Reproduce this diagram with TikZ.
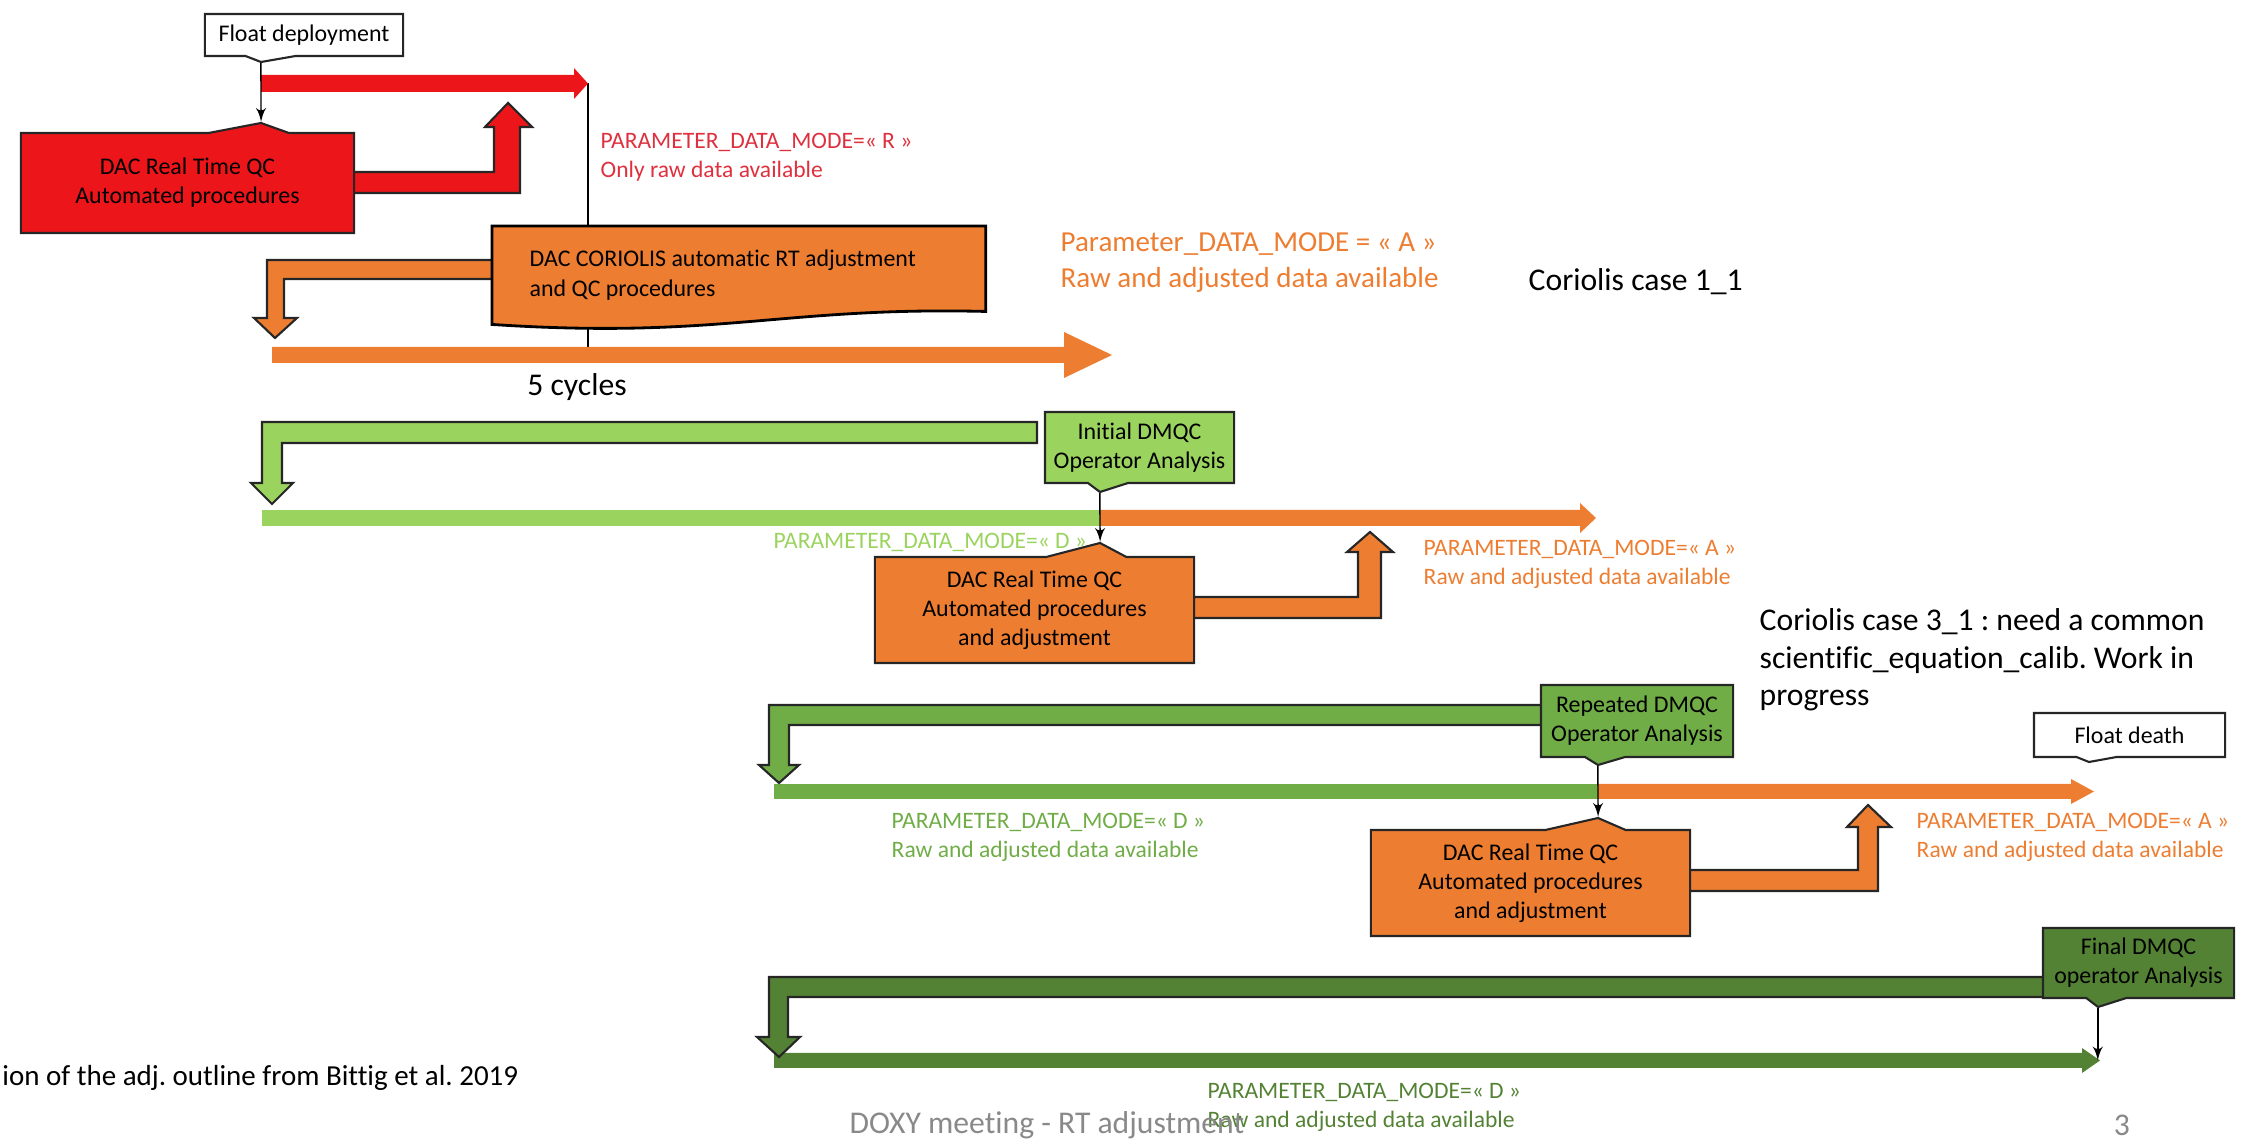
\documentclass[tikz,border=0pt]{standalone}
\usepackage{fontspec}
\setmainfont{Carlito}[Ligatures=NoCommon]
\usepackage{tikz}
\usetikzlibrary{arrows}
\usetikzlibrary{calc}
\usetikzlibrary{shapes.callouts}

\definecolor{qcred}{RGB}{236,22,26}
\definecolor{redtxt}{RGB}{222,48,62}
\definecolor{qcorange}{RGB}{237,125,49}
\definecolor{dmlight}{RGB}{155,211,95}
\definecolor{dmmid}{RGB}{112,173,71}
\definecolor{dmdark}{RGB}{84,130,53}
\definecolor{footgray}{RGB}{137,137,137}

\begin{document}
\frenchspacing
\begin{tikzpicture}[x=0.01cm,y=-0.01cm,>=latex',
    box/.style={draw=black!85,line width=0.6pt,align=center,inner sep=0pt,rectangle callout,
        font=\fontsize{6.8}{8.2}\selectfont},
    bent/.style={draw=black!85,line width=0.6pt,line join=miter},
    mode/.style={align=left,anchor=west,inner sep=0pt,font=\fontsize{6.7}{8.2}\selectfont},
    note/.style={align=left,anchor=west,inner sep=0pt,font=\fontsize{9}{10.7}\selectfont}]

    \useasboundingbox (0,0) rectangle (2253,1146);

    % Arrow tips
    \coordinate (rtip) at (588,83.5);
    \coordinate (atip) at (1112,355);
    \coordinate (dtip) at (2100,1060.5);

    % Thin line from the R arrow down to the A arrow
    \draw[line width=0.4pt] (rtip) -- (rtip |- atip);

    % Horizontal arrows
    \fill[qcred] (261,75) -- (574,75) -- (574,68) -- (rtip) -- (574,99) -- (574,92) -- (261,92) -- cycle;
    \fill[qcorange] (272,347) -- (1064,347) -- (1064,332) -- (atip) -- (1064,378) -- (1064,363) -- (272,363) -- cycle;
    \fill[dmlight] (262,510) rectangle (1100,526);
    \fill[qcorange] (1100,510) -- (1580,510) -- (1580,503) -- (1596,518) -- (1580,533) -- (1580,526) -- (1100,526) -- cycle;
    \fill[dmmid] (774,784) rectangle (1598,799);
    \fill[qcorange] (1598,784) -- (2071,784) -- (2071,779) -- (2094,791.5) -- (2071,804) -- (2071,799) -- (1598,799) -- cycle;
    \fill[dmdark] (774,1053) -- (2082,1053) -- (2082,1048) -- (dtip) -- (2082,1073) -- (2082,1068) -- (774,1068) -- cycle;

    % Bent arrows back to the start
    \filldraw[bent,fill=qcorange] (492,260) -| (267,318) -- (254,318) -- (275,338) -- (297,318) -- (284,318) |- (492,279);
    \filldraw[bent,fill=dmlight] (1037,422) -| (262,483) -- (251,483) -- (272,504) -- (293,483) -- (282,483) |- (1037,443) -- cycle;
    \filldraw[bent,fill=dmmid] (1541,705) -| (769,765) -- (759,765) -- (779,783) -- (799,765) -- (789,765) |- (1541,725);
    \filldraw[bent,fill=dmdark] (2043,977) -| (769,1037) -- (757,1037) -- (779,1057) -- (800,1037) -- (788,1037) |- (2043,997);

    % Up arrows out of the QC boxes
    \filldraw[bent,fill=qcred] (354,172) -| (494,127) -- (485,127) -- (508,103) -- (532,127) -- (520,127) |- (354,193);
    \filldraw[bent,fill=qcorange] (1188,597) -| (1358,552) -- (1347,552) -- (1370,532) -- (1393,552) -- (1381,552) |- (1188,618);
    \filldraw[bent,fill=qcorange] (1685,870) -| (1858,827) -- (1847,827) -- (1868,805) -- (1891,827) -- (1878,827) |- (1685,891);

    % Nodes
    \node[box,fill=white,minimum width=1.98cm,minimum height=0.42cm,callout absolute pointer={(261,62)},callout pointer width=0.5cm] (deploy) at (304,35) {Float deployment};
    \node[box,fill=qcred,minimum width=3.33cm,minimum height=1cm,callout absolute pointer={(261,123)},callout pointer width=0.8cm] (rtqc) at (187.5,183) {DAC Real Time QC\\Automated procedures};

    \node[minimum width=4.92cm,minimum height=0.84cm,anchor=north west,inner sep=0pt] (corbox) at (492,226) {};
    \filldraw[fill=qcorange,draw=black,line width=0.8pt] (corbox.north west) -- (corbox.north east) -- (corbox.south east)
        .. controls ($(corbox.south east)+(-204,-5)$) and ($(corbox.south west)+(228,28)$) .. ($(corbox.south west)+(0,13)$) -- cycle;
    \node[align=left,anchor=west,inner sep=0pt,font=\fontsize{6.8}{8.5}\selectfont] (cortxt) at (529,275) {DAC CORIOLIS automatic RT adjustment\\and QC procedures};

    \node[box,fill=dmlight,minimum width=1.89cm,minimum height=0.71cm,callout absolute pointer={(1100,492)},callout pointer width=0.4cm] (idmqc) at (1139.5,447.5) {Initial DMQC\\Operator Analysis};
    \node[box,fill=qcorange,minimum width=3.19cm,minimum height=1.06cm,callout absolute pointer={(1100,543)},callout pointer width=0.8cm] (rtadj) at (1034.5,610) {DAC Real Time QC\\Automated procedures\\and adjustment};
    \node[box,fill=dmmid,minimum width=1.92cm,minimum height=0.72cm,callout absolute pointer={(1598,765)},callout pointer width=0.4cm] (rdmqc) at (1637,721) {Repeated DMQC\\Operator Analysis};
    \node[box,fill=qcorange,minimum width=3.19cm,minimum height=1.06cm,callout absolute pointer={(1598,818)},callout pointer width=0.8cm] (rtadjb) at (1530.5,883) {DAC Real Time QC\\Automated procedures\\and adjustment};
    \node[box,fill=white,minimum width=1.91cm,minimum height=0.44cm,callout absolute pointer={(2089,762)},callout pointer width=0.4cm] (death) at (2129.5,735) {Float death};
    \node[box,fill=dmdark,minimum width=1.91cm,minimum height=0.70cm,callout absolute pointer={(2098,1007)},callout pointer width=0.4cm] (fdmqc) at (2138.5,963) {Final DMQC\\operator Analysis};

    % Connections
    \draw[->,line width=0.4pt] (deploy.pointer) -- (rtqc.pointer);
    \draw[->,line width=0.4pt] (idmqc.pointer) -- (rtadj.pointer);
    \draw[->,line width=0.4pt] (rdmqc.pointer) -- (rtadjb.pointer);
    \draw[->,line width=0.4pt] (fdmqc.pointer) -- (fdmqc.pointer |- dtip);

    % Data mode labels
    \node[mode,text=redtxt] (modeR) at (600,157.5) {PARAMETER\_DATA\_MODE=« R »\\Only raw data available};
    \node[note,text=qcorange,font=\fontsize{8.25}{10}\selectfont] (modeA) at (1060,262.5) {Parameter\_DATA\_MODE = « A »\\Raw and adjusted data available};
    \node[mode,text=dmlight] (modeD) at (773,542) {PARAMETER\_DATA\_MODE=« D »};
    \node[mode,text=qcorange] (modeAb) at (1423,564) {PARAMETER\_DATA\_MODE=« A »\\Raw and adjusted data available};
    \node[mode,text=dmmid] (modeDb) at (891,837.5) {PARAMETER\_DATA\_MODE=« D »\\Raw and adjusted data available};
    \node[mode,text=qcorange] (modeAc) at (1916,837.5) {PARAMETER\_DATA\_MODE=« A »\\Raw and adjusted data available};
    \node[mode,text=dmdark] (modeDc) at (1207,1107.5) {PARAMETER\_DATA\_MODE=« D »\\Raw and adjusted data available};

    % Notes
    \node[note] (case11) at (1528,282) {Coriolis case 1\_1};
    \node[note,anchor=center] (cycles) at (577,387) {5 cycles};
    \node[note] (case31) at (1759,660) {Coriolis case 3\_1 : need a common\\scientific\_equation\_calib. Work in\\progress};
    \node[note,anchor=east,font=\fontsize{8.25}{10}\selectfont] (source) at (519,1078) {ion of the adj. outline from Bittig et al. 2019};
    \node[note,text=footgray] (footer) at (849,1125) {DOXY meeting - RT adjustment};
    \node[note,anchor=center,text=footgray] (pagenum) at (2122,1125) {3};

\end{tikzpicture}
\end{document}
